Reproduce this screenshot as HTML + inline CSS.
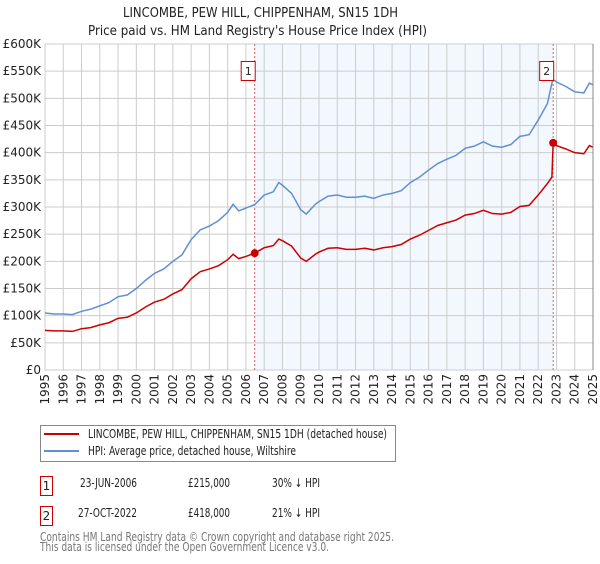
<!DOCTYPE html>
<html><head><meta charset="utf-8"><style>
body{margin:0;background:#fff;font-family:"DejaVu Sans","Liberation Sans",sans-serif}
svg text{font-family:"DejaVu Sans","Liberation Sans",sans-serif}
</style></head><body>
<svg id="chart" width="600" height="560" viewBox="0 0 600 560" xmlns="http://www.w3.org/2000/svg">
<text x="123" y="17" font-size="13" textLength="275" lengthAdjust="spacingAndGlyphs" fill="#222">LINCOMBE, PEW HILL, CHIPPENHAM, SN15 1DH</text>
<text x="88" y="35" font-size="13" textLength="339" lengthAdjust="spacingAndGlyphs" fill="#222">Price paid vs. HM Land Registry's House Price Index (HPI)</text>
<g id="grid"></g><g id="marks"></g><g id="axes"></g>
<g>
<rect x="40.5" y="425.5" width="355" height="36" fill="#fff" stroke="#888"/>
<line x1="44" y1="434" x2="79" y2="434" stroke="#cc0000" stroke-width="2"/>
<text x="88" y="438" font-size="12" textLength="299" lengthAdjust="spacingAndGlyphs" fill="#222">LINCOMBE, PEW HILL, CHIPPENHAM, SN15 1DH (detached house)</text>
<line x1="44" y1="451" x2="79" y2="451" stroke="#6090d0" stroke-width="2"/>
<text x="88" y="455" font-size="12" textLength="208" lengthAdjust="spacingAndGlyphs" fill="#222">HPI: Average price, detached house, Wiltshire</text>
</g>
<g font-size="12" fill="#222">
<rect x="40.5" y="476.5" width="12" height="19" fill="#fff" stroke="#cc0000"/>
<text x="46.5" y="490" text-anchor="middle">1</text>
<text x="80" y="487" textLength="57" lengthAdjust="spacingAndGlyphs">23-JUN-2006</text>
<text x="188" y="487" textLength="42" lengthAdjust="spacingAndGlyphs">£215,000</text>
<text x="272" y="487" textLength="48" lengthAdjust="spacingAndGlyphs">30% ↓ HPI</text>
<rect x="40.5" y="506.5" width="12" height="19" fill="#fff" stroke="#cc0000"/>
<text x="46.5" y="520" text-anchor="middle">2</text>
<text x="78" y="517" textLength="59" lengthAdjust="spacingAndGlyphs">27-OCT-2022</text>
<text x="188" y="517" textLength="42" lengthAdjust="spacingAndGlyphs">£418,000</text>
<text x="272" y="517" textLength="48" lengthAdjust="spacingAndGlyphs">21% ↓ HPI</text>
</g>
<text x="40" y="541" font-size="12" textLength="354" lengthAdjust="spacingAndGlyphs" fill="#777">Contains HM Land Registry data © Crown copyright and database right 2025.</text>
<text x="40" y="551" font-size="12" textLength="289" lengthAdjust="spacingAndGlyphs" fill="#777">This data is licensed under the Open Government Licence v3.0.</text>
</svg>
<script>
const hpiYears=[1995,1995.5,1996,1996.5,1997,1997.5,1998,1998.5,1999,1999.5,2000,2000.5,2001,2001.5,2002,2002.5,2003,2003.5,2004,2004.5,2005,2005.3,2005.6,2006,2006.5,2007,2007.5,2007.8,2008,2008.5,2009,2009.3,2009.8,2010,2010.5,2011,2011.5,2012,2012.5,2013,2013.5,2014,2014.5,2015,2015.5,2016,2016.5,2017,2017.5,2018,2018.5,2019,2019.5,2020,2020.5,2021,2021.5,2022,2022.5,2022.8,2023,2023.5,2024,2024.5,2024.8,2025];
const hpiValues=[105,103,103,102,108,112,118,124,135,138,150,165,178,186,200,212,240,258,265,275,290,305,293,298,305,322,328,345,340,325,295,287,305,310,320,322,318,318,320,316,322,325,330,345,355,368,380,388,395,408,412,420,412,410,415,430,433,460,490,535,530,522,512,510,528,525];
const priceYears=[1995,1995.5,1996,1996.5,1997,1997.5,1998,1998.5,1999,1999.5,2000,2000.5,2001,2001.5,2002,2002.5,2003,2003.5,2004,2004.5,2005,2005.3,2005.6,2006,2006.48,2007,2007.5,2007.8,2008,2008.5,2009,2009.3,2009.8,2010,2010.5,2011,2011.5,2012,2012.5,2013,2013.5,2014,2014.5,2015,2015.5,2016,2016.5,2017,2017.5,2018,2018.5,2019,2019.5,2020,2020.5,2021,2021.5,2022,2022.5,2022.75,2022.82,2023,2023.5,2024,2024.5,2024.8,2025];
const priceValues=[73,72,72,71,76,78,83,87,95,97,105,116,125,130,140,148,168,181,186,192,203,213,205,209,215,225,229,241,238,228,206,200,213,217,224,225,222,222,224,221,225,227,231,241,248,257,266,271,276,285,288,294,288,287,290,301,303,322,343,355,418,413,407,400,398,413,410];
const saleYears=[2006.48,2022.82];
const saleValues=[215,418];
const saleLabels=["1","2"];
const yTicks=[0,50,100,150,200,250,300,350,400,450,500,550,600];
const yTickLabels=["£0","£50K","£100K","£150K","£200K","£250K","£300K","£350K","£400K","£450K","£500K","£550K","£600K"];
const xTicks=[1995,1996,1997,1998,1999,2000,2001,2002,2003,2004,2005,2006,2007,2008,2009,2010,2011,2012,2013,2014,2015,2016,2017,2018,2019,2020,2021,2022,2023,2024,2025];

const X0=45,X1=593,Y0=370,Y1=44;
const xs=y=>X0+(y-1995)/30*(X1-X0);
const ys=v=>Y0-v/600*(Y0-Y1);
const NS="http://www.w3.org/2000/svg";
function mk(parent,tag,attrs){const e=document.createElementNS(NS,tag);for(const k in attrs)e.setAttribute(k,attrs[k]);parent.appendChild(e);return e;}
const grid=document.getElementById('grid'),marks=document.getElementById('marks'),axes=document.getElementById('axes');

const shade=mk(grid,'rect',{x:xs(saleYears[0]),y:Y1,width:xs(saleYears[1])-xs(saleYears[0]),height:Y0-Y1,fill:'#eef3fd',opacity:0.7});


xTicks.forEach((t,i)=>{
  const l=mk(grid,'line',{x1:xs(t),x2:xs(t),y1:Y1,y2:Y0,stroke:'#cccccc'});
  
  
  const tx=mk(axes,'text',{x:0,y:0,'font-size':12,fill:'#222','text-anchor':'end',transform:`translate(${xs(t)+4},374) rotate(-90)`});
  tx.textContent=t;
  
  
});
yTicks.forEach((t,i)=>{
  const l=mk(grid,'line',{x1:X0,x2:X1,y1:ys(t),y2:ys(t),stroke:'#cccccc'});
  
  
  const tx=mk(axes,'text',{x:41,y:ys(t)+4,'font-size':12,fill:'#222','text-anchor':'end'});
  tx.textContent=yTickLabels[i];
  
  
});
saleYears.forEach((s,i)=>{
  const l=mk(grid,'line',{x1:xs(s),x2:xs(s),y1:Y1,y2:Y0,stroke:'#e06060','stroke-dasharray':'2,2'});
  
  
  const r=mk(axes,'rect',{x:xs(s)-13.5,y:61.5,width:14,height:19,fill:'#fff',stroke:'#cc0000'});
  
  
  const t=mk(axes,'text',{x:xs(s)-6.5,y:75,'font-size':11,'text-anchor':'middle',fill:'#222'});
  t.textContent=saleLabels[i];
  
  
});
const hp=mk(marks,'polyline',{points:hpiYears.map((y,i)=>xs(y)+','+ys(hpiValues[i])).join(' '),fill:'none',stroke:'#6090d0','stroke-width':1.5});


const pp=mk(marks,'polyline',{points:priceYears.map((y,i)=>xs(y)+','+ys(priceValues[i])).join(' '),fill:'none',stroke:'#cc0000','stroke-width':1.5});


saleYears.forEach((s,i)=>{
  const c=mk(marks,'circle',{cx:xs(s),cy:ys(saleValues[i]),r:4,fill:'#cc0000'});
  
  
});
const ax=mk(axes,'line',{x1:X1,x2:X1,y1:Y1,y2:Y0,stroke:'#888'});


</script>
</body></html>
